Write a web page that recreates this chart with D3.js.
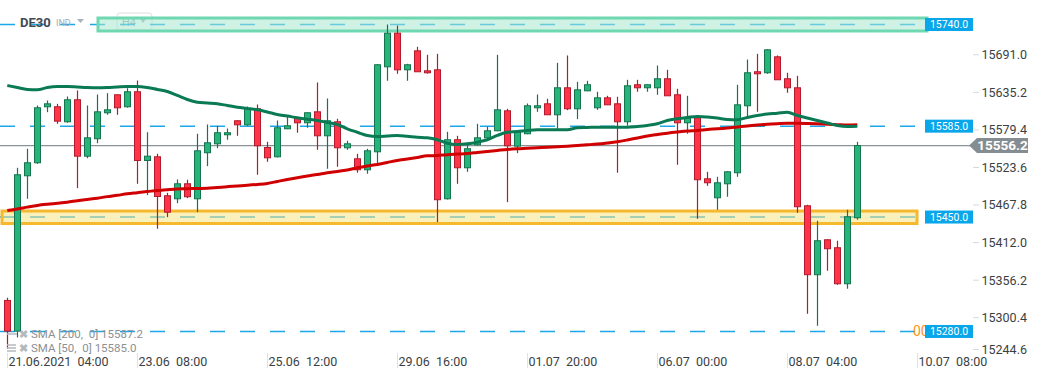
<!DOCTYPE html>
<html><head><meta charset="utf-8">
<script src="https://cdn.jsdelivr.net/npm/d3@7"></script>
<style>
html,body{margin:0;padding:0;background:#fff;}
svg{display:block;font-family:Roboto, "Noto Sans", sans-serif;}
text{white-space:pre;}
</style></head>
<body><svg id="chart" width="1041" height="380"></svg>
<script>
const open = [15326.1, 15280.5, 15511.3, 15530.6, 15613.8, 15613.8, 15591.5, 15624.2, 15540.4, 15566.3,
15604.9, 15631.6, 15613.8, 15636.1, 15534.0, 15539.5, 15481.6, 15477.1, 15499.4, 15477.1,
15545.5, 15558.8, 15572.2, 15593.0, 15587.0, 15610.8, 15553.3, 15539.5, 15581.1, 15597.4,
15590.0, 15606.3, 15570.7, 15591.5, 15552.9, 15536.5, 15520.2, 15546.9, 15673.2, 15723.1,
15668.7, 15696.9, 15667.2, 15668.7, 15477.1, 15564.8, 15523.2, 15557.3, 15567.7, 15578.1,
15607.8, 15555.3, 15573.7, 15612.3, 15618.2, 15601.9, 15642.0, 15610.8, 15637.5, 15612.3,
15627.1, 15618.2, 15591.5, 15646.5, 15642.0, 15642.0, 15655.4, 15631.6, 15590.0, 15597.4,
15506.8, 15478.6, 15499.4, 15515.8, 15615.3, 15665.8, 15664.3, 15688.0, 15655.4, 15642.0,
15466.7, 15364.3, 15416.2, 15404.4, 15350.9, 15448.9];
const high = [15330.1, 15523.2, 15551.4, 15615.7, 15623.1, 15618.2, 15629.1, 15638.0, 15615.7, 15632.0,
15634.0, 15632.0, 15641.4, 15652.8, 15576.0, 15544.0, 15486.0, 15505.8, 15505.4, 15573.7,
15587.5, 15585.6, 15581.5, 15593.5, 15614.2, 15617.2, 15561.8, 15593.4, 15598.9, 15598.0,
15605.5, 15649.9, 15626.1, 15596.0, 15563.3, 15544.0, 15551.4, 15677.0, 15736.0, 15734.5,
15677.6, 15702.9, 15691.0, 15692.5, 15576.6, 15570.7, 15557.3, 15588.5, 15584.1, 15691.0,
15610.8, 15577.0, 15618.7, 15632.0, 15625.7, 15679.1, 15690.0, 15650.9, 15652.4, 15636.1,
15630.1, 15628.6, 15653.9, 15653.9, 15647.0, 15675.1, 15668.7, 15640.5, 15630.1, 15598.0,
15517.2, 15509.8, 15518.0, 15646.5, 15684.0, 15692.5, 15699.5, 15690.0, 15664.3, 15659.8,
15468.2, 15444.5, 15417.0, 15414.8, 15460.8, 15561.8];
const low = [15254.3, 15271.1, 15477.1, 15529.0, 15605.8, 15588.5, 15590.0, 15492.9, 15537.4, 15559.7,
15601.9, 15601.9, 15612.5, 15499.4, 15482.5, 15432.6, 15449.8, 15470.6, 15478.0, 15457.2,
15525.6, 15552.3, 15564.8, 15570.7, 15585.6, 15512.8, 15532.1, 15538.5, 15580.5, 15575.2,
15582.6, 15549.9, 15521.7, 15524.7, 15549.9, 15515.8, 15514.3, 15529.1, 15652.4, 15662.8,
15652.4, 15665.8, 15663.0, 15442.4, 15476.0, 15499.4, 15517.2, 15556.5, 15567.0, 15577.5,
15472.1, 15544.9, 15573.0, 15606.3, 15601.9, 15581.1, 15608.7, 15595.4, 15637.0, 15609.3,
15616.7, 15515.8, 15585.6, 15636.1, 15636.1, 15631.6, 15630.1, 15527.6, 15573.7, 15447.4,
15496.4, 15460.8, 15480.1, 15509.8, 15596.0, 15606.3, 15662.8, 15653.9, 15634.6, 15456.3,
15306.3, 15288.5, 15370.2, 15349.4, 15343.5, 15446.0];
const close = [15280.5, 15512.8, 15530.6, 15612.3, 15618.2, 15592.4, 15624.2, 15540.4, 15567.7, 15606.3,
15609.3, 15612.3, 15636.1, 15534.0, 15540.4, 15480.5, 15457.2, 15499.4, 15480.1, 15548.4,
15560.3, 15575.2, 15575.2, 15587.0, 15610.8, 15555.9, 15538.0, 15582.6, 15585.6, 15590.0,
15604.9, 15570.7, 15593.0, 15552.9, 15558.8, 15520.2, 15548.4, 15676.2, 15723.1, 15668.7,
15676.2, 15665.8, 15664.3, 15475.7, 15564.8, 15523.2, 15551.4, 15567.7, 15578.1, 15609.3,
15555.9, 15576.0, 15615.3, 15615.3, 15601.9, 15642.0, 15610.8, 15639.0, 15646.5, 15627.1,
15616.7, 15591.5, 15645.0, 15642.0, 15646.5, 15655.4, 15630.1, 15590.0, 15597.4, 15505.4,
15500.9, 15500.9, 15517.2, 15616.7, 15664.3, 15662.8, 15698.4, 15653.9, 15642.0, 15465.3,
15364.3, 15414.8, 15402.9, 15350.9, 15450.4, 15556.2];
const sma50 = [15645.4, 15642.4, 15639.5, 15639.0, 15642.4, 15643.9, 15643.9, 15643.2, 15642.4, 15642.0,
15642.4, 15643.2, 15643.9, 15643.9, 15642.4, 15639.5, 15636.5, 15630.6, 15624.6, 15620.6,
15619.4, 15618.2, 15615.7, 15613.2, 15611.3, 15609.3, 15606.1, 15602.3, 15600.1, 15597.4,
15595.4, 15593.4, 15590.5, 15587.5, 15581.1, 15576.0, 15571.2, 15569.7, 15570.4, 15571.2,
15570.0, 15568.6, 15567.7, 15564.8, 15559.7, 15557.8, 15558.8, 15561.2, 15564.8, 15571.2,
15576.0, 15577.1, 15578.6, 15579.6, 15579.6, 15579.6, 15579.6, 15582.6, 15583.0, 15583.5,
15583.5, 15583.5, 15583.5, 15584.5, 15586.0, 15588.5, 15593.4, 15596.0, 15597.9, 15599.4,
15598.6, 15597.1, 15594.9, 15594.5, 15597.9, 15600.9, 15603.1, 15604.3, 15605.8, 15600.9,
15597.1, 15593.4, 15589.7, 15586.0, 15584.5, 15585.0];
const sma200 = [15459.8, 15462.0, 15464.7, 15467.2, 15469.0, 15470.5, 15472.1, 15474.2, 15476.1, 15478.0,
15480.3, 15482.3, 15484.6, 15486.2, 15487.8, 15489.5, 15490.7, 15491.7, 15492.0, 15492.4,
15492.7, 15493.9, 15495.1, 15496.2, 15497.2, 15498.4, 15499.9, 15502.8, 15505.8, 15508.5,
15511.0, 15513.2, 15515.9, 15517.7, 15519.9, 15523.2, 15525.9, 15528.1, 15531.1, 15534.0,
15536.2, 15538.5, 15541.0, 15541.4, 15542.6, 15543.5, 15544.4, 15545.9, 15547.4, 15548.9,
15550.4, 15551.4, 15552.1, 15552.9, 15553.6, 15554.5, 15555.3, 15556.3, 15557.3, 15558.4,
15560.0, 15561.9, 15564.5, 15567.4, 15570.4, 15572.6, 15574.6, 15576.3, 15577.8, 15578.6,
15580.1, 15581.1, 15582.3, 15583.8, 15585.3, 15586.7, 15587.9, 15588.7, 15589.3, 15589.3,
15589.0, 15588.5, 15587.8, 15587.2, 15586.6, 15587.2];
const xTickIndex = [0, 13, 26, 39, 52, 65, 78, 91];
const xTickLabels = ["21.06.2021  04:00", "23.06  08:00", "25.06  12:00", "29.06  16:00", "01.07  20:00", "06.07  00:00", "08.07  04:00", "10.07  08:00"];
const yTicks = [15691.0, 15635.2, 15579.4, 15523.6, 15467.8, 15412.0, 15356.2, 15300.4, 15244.6];
const levels = [15740.0, 15585.0, 15450.0, 15280.0];
const zoneGreen = 15740.0, zoneYellow = 15450.0;
const lastPrice = 15556.2;
const legendItems = ["SMA [200,  0] 15587.2", "SMA [50,  0] 15585.0"];
const symbol = "DE30", symbolType = "IND", timeframe = "H4";

const svg = d3.select("#chart");
const x = d3.scaleLinear().domain([0, 91]).range([7.3, 917.3]);
const y = d3.scaleLinear().domain([15244.6, 15691.0]).range([355.3, 54.8]);
// level objects are kept inside the top margin of the plot
const ly = d => Math.max(y(d), 24.5);
const idx = d3.range(open.length);

svg.append("rect").attr("width", 1041).attr("height", 380).attr("fill", "#fff");

// header (behind zone)
const hd = svg.append("g");
hd.append("rect").attr("x", 117).attr("y", 13).attr("width", 35).attr("height", 17).attr("rx", 3)
  .attr("fill", "#fff").attr("stroke", "#dcdfe2");
hd.append("text").attr("x", 122).attr("y", 26).attr("font-size", 11).attr("fill", "#9aa3ab").text(timeframe);
hd.append("path").attr("d", "M140,19L146,19L143,23Z").attr("fill", "#aab2b9");

// dashed levels
svg.append("g").selectAll("line").data(levels).join("line")
  .attr("x1", 0).attr("x2", 925).attr("y1", d => ly(d)).attr("y2", d => ly(d))
  .attr("stroke", "#1ea7e8").attr("stroke-width", 1.5).attr("stroke-dasharray", "15,15");

svg.append("text").attr("x", 20).attr("y", 27).attr("font-size", 13).attr("font-weight", "bold").attr("fill", "#404a55").text(symbol);
svg.append("text").attr("x", 56).attr("y", 26).attr("font-size", 9).attr("fill", "#a3abb3").text(symbolType);
svg.append("path").attr("d", "M77,19L84,19L80.5,23Z").attr("fill", "#aab2b9");

// zones
svg.append("rect").attr("x", 98).attr("y", ly(zoneGreen) - 6.5).attr("width", 829).attr("height", 13)
  .attr("fill", "#a8e8cf").attr("fill-opacity", 0.55).attr("stroke", "#6fd8b2").attr("stroke-width", 3);
svg.append("rect").attr("x", 2).attr("y", ly(zoneYellow) - 6).attr("width", 915).attr("height", 12.5)
  .attr("fill", "#f5e178").attr("fill-opacity", 0.5).attr("stroke", "#f6b82c").attr("stroke-width", 3);

// current price line
svg.append("line").attr("x1", 0).attr("x2", 970).attr("y1", y(lastPrice)).attr("y2", y(lastPrice))
  .attr("stroke", "#8a9398").attr("stroke-width", 1.2);

// candles
const cg = svg.append("g");
idx.forEach(i => {
  const up = close[i] >= open[i];
  const fill = up ? "#27b47b" : "#ff3448";
  const stroke = up ? "#15744d" : "#b01c2d";
  const cx = Math.round(x(i)) + 0.5;
  cg.append("line").attr("x1", cx).attr("x2", cx).attr("y1", y(high[i])).attr("y2", y(low[i]))
    .attr("stroke", stroke).attr("stroke-width", 1.2);
  const top = y(Math.max(open[i], close[i])), bot = y(Math.min(open[i], close[i]));
  cg.append("rect").attr("x", cx - 3).attr("y", top).attr("width", 6).attr("height", Math.max(1, bot - top))
    .attr("fill", fill).attr("stroke", stroke).attr("stroke-width", 1);
});

// SMA lines
const line = arr => d3.line().x(i => x(i)).y(i => y(arr[i])).curve(d3.curveMonotoneX)(idx);
svg.append("path").attr("d", line(sma200)).attr("fill", "none").attr("stroke", "#d10000").attr("stroke-width", 3).attr("stroke-linejoin", "round");
svg.append("path").attr("d", line(sma50)).attr("fill", "none").attr("stroke", "#0a7a55").attr("stroke-width", 3).attr("stroke-linejoin", "round");

// orange partial label
svg.append("text").attr("x", 913).attr("y", ly(levels[3]) + 5).attr("font-size", 14).attr("fill", "#f7941d").text("00");

// level boxes
const lb = svg.append("g").selectAll("g").data(levels).join("g");
lb.append("rect").attr("x", 925).attr("y", d => ly(d) - 6.5).attr("width", 48).attr("height", 13).attr("fill", "#0aa6ea");
lb.append("text").attr("x", 949).attr("y", d => ly(d)).attr("dy", "0.35em").attr("text-anchor", "middle")
  .attr("font-size", 10.5).attr("fill", "#fff").text(d => d.toFixed(1));

// right axis
const ya = svg.append("g");
yTicks.forEach(v => {
  const yy = Math.min(y(v), 349.5);
  ya.append("line").attr("x1", 973).attr("x2", 979).attr("y1", yy).attr("y2", yy).attr("stroke", "#d6d9dc");
  ya.append("text").attr("x", 981.5).attr("y", yy).attr("dy", "0.35em").attr("font-size", 12.5).attr("fill", "#3b3f44").text(v.toFixed(1));
});

// current price marker
const py = y(lastPrice);
svg.append("path").attr("d", `M969,${py}L977,${py - 7.5}L1028,${py - 7.5}L1028,${py + 7.5}L977,${py + 7.5}Z`).attr("fill", "#848d92");
svg.append("text").attr("x", 1002.5).attr("y", py).attr("dy", "0.36em").attr("text-anchor", "middle")
  .attr("font-size", 13.5).attr("font-weight", "bold").attr("fill", "#fff").text(lastPrice.toFixed(1));

// x axis
const xa = svg.append("g");
xTickIndex.forEach((ti, k) => {
  const xx = Math.round(x(ti)) + 0.5;
  xa.append("line").attr("x1", xx).attr("x2", xx).attr("y1", 353).attr("y2", 368).attr("stroke", "#e0e3e6");
  xa.append("text").attr("x", xx + 1).attr("y", 366).attr("font-size", 12.5).attr("fill", "#3b3f44").text(xTickLabels[k]);
});

// legend
const lg = svg.append("g");
legendItems.forEach((t, k) => {
  const lyy = 334 + k * 14;
  if (k === 0) {
    lg.append("line").attr("x1", 7).attr("x2", 17).attr("y1", lyy).attr("y2", lyy).attr("stroke", "#b5b9bd").attr("stroke-width", 1.5);
  } else {
    [-3, 0, 3].forEach(o => lg.append("line").attr("x1", 7).attr("x2", 16).attr("y1", lyy + o).attr("y2", lyy + o).attr("stroke", "#b5b9bd").attr("stroke-width", 1.5));
  }
  lg.append("text").attr("x", 23.5).attr("y", lyy).attr("dy", "0.35em").attr("text-anchor", "middle").attr("font-size", 11).attr("font-weight", "bold").attr("fill", "#b5b9bd").text("\u2716");
  lg.append("text").attr("x", 31).attr("y", lyy).attr("dy", "0.35em").attr("font-size", 11.5).attr("fill", "#8c9094").text(t);
});
</script></body></html>
